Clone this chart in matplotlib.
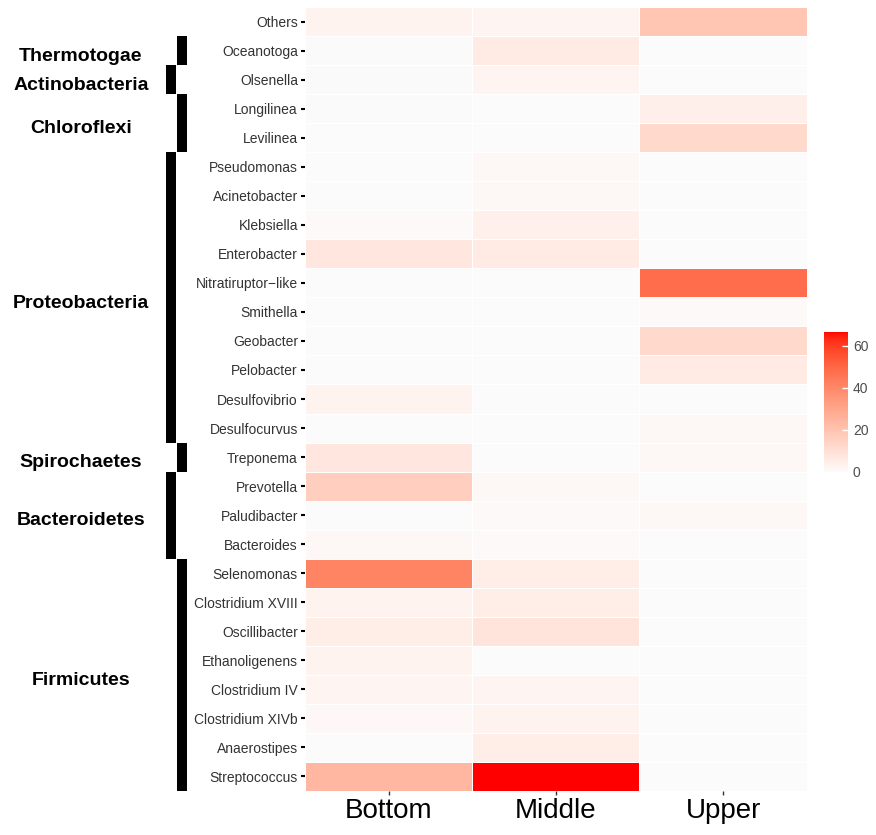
import numpy as np
import matplotlib
matplotlib.use("Agg")
import matplotlib.pyplot as plt
from matplotlib.colors import ListedColormap, to_rgb

plt.rcParams['font.family'] = ['Liberation Sans', 'DejaVu Sans']

genera = ['Others', 'Oceanotoga', 'Olsenella', 'Longilinea', 'Levilinea',
          'Pseudomonas', 'Acinetobacter', 'Klebsiella', 'Enterobacter',
          'Nitratiruptor\u2212like', 'Smithella', 'Geobacter', 'Pelobacter',
          'Desulfovibrio', 'Desulfocurvus', 'Treponema', 'Prevotella',
          'Paludibacter', 'Bacteroides', 'Selenomonas', 'Clostridium XVIII',
          'Oscillibacter', 'Ethanoligenens', 'Clostridium IV',
          'Clostridium XIVb', 'Anaerostipes', 'Streptococcus']
layers = ['Bottom', 'Middle', 'Upper']

bottom = [3, 0.5, 0.5, 0.5, 0, 0, 0, 0.8, 7.5, 0, 0, 0, 0, 3, 0, 7.5, 16, 0, 1.5,
          41, 3, 5, 3, 2.5, 1.6, 0, 24]
middle = [2.5, 6, 2.5, 0, 0, 1.6, 1.6, 4, 6, 0, 0, 0, 0, 0, 0, 0, 1.6, 0.8,
          0.8, 5, 5, 8.5, 0, 2.5, 3, 5, 66.7]
upper = [19, 0, 0, 4.5, 12.5, 0, 0, 0, 0, 48, 0.8, 12.5, 6, 0, 1.6, 1.6, 0, 1.6, 0,
         0, 0, 0, 0, 0, 0, 0, 0]

phyla = ['Thermotogae', 'Actinobacteria', 'Chloroflexi', 'Proteobacteria',
         'Spirochaetes', 'Bacteroidetes', 'Firmicutes']
phylum_sizes = [1, 1, 2, 10, 1, 3, 8]


# white -> red gradient interpolated in Lab space (like ggplot2)
def to_lab(c):
    rgb = np.array(to_rgb(c))
    lin = np.where(rgb <= 0.04045, rgb / 12.92, ((rgb + 0.055) / 1.055) ** 2.4)
    m = np.array([[0.4124, 0.3576, 0.1805], [0.2126, 0.7152, 0.0722],
                  [0.0193, 0.1192, 0.9505]])
    xyz = m @ lin / np.array([0.95047, 1.0, 1.08883])
    f = np.where(xyz > 0.008856, np.cbrt(xyz), 7.787 * xyz + 16 / 116)
    return np.array([116 * f[1] - 16, 500 * (f[0] - f[1]), 200 * (f[1] - f[2])])


def from_lab(lab):
    L, a, b = lab
    fy = (L + 16) / 116
    f = np.array([fy + a / 500, fy, fy - b / 200])
    xyz = np.where(f > 0.2069, f ** 3, (f - 16 / 116) / 7.787)
    xyz = xyz * np.array([0.95047, 1.0, 1.08883])
    mi = np.array([[3.2406, -1.5372, -0.4986], [-0.9689, 1.8758, 0.0415],
                   [0.0557, -0.2040, 1.0570]])
    lin = mi @ xyz
    rgb = np.where(lin <= 0.0031308, 12.92 * lin,
                   1.055 * np.clip(lin, 0, None) ** (1 / 2.4) - 0.055)
    return np.clip(rgb, 0, 1)


lo, hi = to_lab('#FBFBFB'), to_lab('#FF0000')
cmap = ListedColormap([from_lab(lo + (hi - lo) * t) for t in np.linspace(0, 1, 256)])

data = np.array([bottom, middle, upper]).T
vmax = data.max()

fig = plt.figure(figsize=(8.76, 8.35), dpi=100)
ax = fig.add_axes([0.348, 0.0527, 0.573, 0.9389])
mesh = ax.pcolormesh(np.arange(4), np.arange(len(genera) + 1), data,
                     cmap=cmap, vmin=0, vmax=vmax,
                     edgecolor='#FFFFFF', linewidth=0.4)
ax.set_ylim(len(genera), 0)
ax.set_xlim(0, 3)
ax.set_yticks(np.arange(len(genera)) + 0.5)
ax.set_yticklabels(genera, fontsize=10, color='#333333')
ax.set_xticks(np.arange(3) + 0.5)
ax.set_xticklabels(layers, fontsize=20, color='black')
ax.tick_params(axis='y', length=3, width=1.5, color='black', pad=2)
ax.tick_params(axis='x', length=3, width=1, color='#333333', pad=2)
for s in ax.spines.values():
    s.set_visible(False)

# phylum brackets on the left ("Others" has no phylum)
axl = fig.add_axes([0, 0.0527, 0.348, 0.9389], sharey=ax)
axl.set_xlim(0, 305)
axl.axis('off')
start = 1
for i, (name, n) in enumerate(zip(phyla, phylum_sizes)):
    x0 = 177 if i % 2 == 0 else 166
    axl.bar(x0, n, bottom=start, width=10, align='edge', color='black')
    axl.text(81, start + n / 2 + 0.2, name, ha='center', va='center',
             fontsize=14, fontweight='bold')
    start += n

# colorbar
cax = fig.add_axes([0.9406, 0.4350, 0.0274, 0.1677])
cb = fig.colorbar(mesh, cax=cax, ticks=[0, 20, 40, 60])
cb.outline.set_visible(False)
cax.tick_params(length=4, width=1, color='white', direction='in',
                labelsize=10, labelcolor='#4d4d4d')

fig.savefig('out.png', dpi=100)
